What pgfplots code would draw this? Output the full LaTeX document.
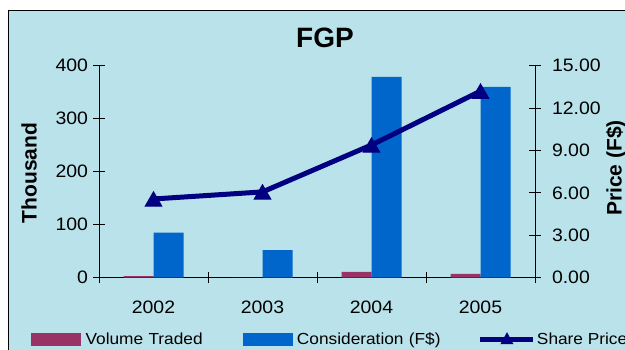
\documentclass[border=0pt]{standalone}
\usepackage{pgfplots}
\pgfplotsset{compat=1.18}
\usepackage{fontspec}
\setmainfont[FakeStretch=1.08]{Liberation Sans}
\newfontfamily\plainsans{Liberation Sans}

\definecolor{bgcol}{RGB}{186,226,234}
\definecolor{maroonbar}{RGB}{153,51,102}
\definecolor{bluebar}{RGB}{0,102,204}
\definecolor{navyline}{RGB}{0,0,128}

% Yearly figures for FGP
\pgfplotstableread{
idx volume consideration price
0   3      85            5.57
1   0      52            6.07
2   11     379           9.39
3   7      360           13.20
}\fgpdata

\begin{document}
\begin{tikzpicture}[x=1pt,y=1pt]
\useasboundingbox (0,0) rectangle (625,350);
\clip (0,0) rectangle (625,350);
\fill[white] (0,0) rectangle (625,350);
\fill[bgcol] (8,-2) rectangle (630,339);
\draw[black, line width=1pt] (8,-2) -- (8,339) -- (630,339);

\pgfplotsset{
  fgpbase/.style={
    at={(99pt,72.3pt)}, anchor=south west,
    scale only axis, width=436pt, height=212pt,
    xmin=-0.5, xmax=3.5,
    axis line style={-, black, line width=0.8pt},
    tick style={black, line width=0.8pt},
    major tick length=11pt, tick align=center,
    /pgf/number format/assume math mode=true,
    tick label style={font=\fontsize{18}{20}\selectfont},
    scaled y ticks=false,
    clip=false,
  },
  pricelegend/.style={
    legend image code/.code={%
      \draw[navyline, line width=5pt] (0pt,0pt) -- (53pt,0pt);
      \fill[navyline, draw=none] (26.5pt,7pt) -- (33pt,-5pt) -- (20pt,-5pt) -- cycle;}
  },
}

% Bars: volume traded and consideration
\begin{axis}[
  fgpbase,
  ymin=0, ymax=400, ytick={0,100,...,400},
  axis x line*=bottom, axis y line*=left,
  xtick={-0.5,0.5,1.5,2.5,3.5},
  x tick label as interval,
  xticklabels={2002,2003,2004,2005},
  xticklabel style={yshift=-14pt},
  yticklabel style={xshift=-2pt},
]
\addplot[ybar, bar width=30pt, bar shift=-15pt, fill=maroonbar, draw=none]
  table[x=idx, y=volume] {\fgpdata};
\addplot[ybar, bar width=30pt, bar shift=15pt, fill=bluebar, draw=none]
  table[x=idx, y=consideration] {\fgpdata};
\end{axis}

% Line: share price on the right axis
\begin{axis}[
  fgpbase,
  ymin=0, ymax=15, ytick={0,3,...,15},
  axis y line*=right, axis x line=none,
  yticklabel style={xshift=8pt, /pgf/number format/.cd, fixed, fixed zerofill, precision=2},
  legend style={at={(-0.156,-0.289)}, anchor=west, draw=none, fill=none,
    inner sep=0pt, legend columns=3, column sep=0pt,
    font=\fontsize{16}{18}\selectfont,
    nodes={inner xsep=5pt, inner ysep=0pt, anchor=west}},
  legend cell align=left,
]
\addlegendimage{legend image code/.code={\fill[maroonbar] (0pt,-6pt) rectangle (49pt,6pt);}}
\addlegendentry[text width=152pt]{Volume Traded}
\addlegendimage{legend image code/.code={\fill[bluebar] (0pt,-6pt) rectangle (49pt,6pt);}}
\addlegendentry[text width=176pt]{Consideration (F\$)}
\addplot[navyline, line width=5pt, mark=triangle*,
  mark options={solid, line width=1pt, mark size=9.5pt, yshift=-2.4pt},
  pricelegend]
  table[x=idx, y=price] {\fgpdata};
\addlegendentry[inner xsep=1pt]{Share Price}
\end{axis}

\node[font=\plainsans\bfseries\fontsize{28}{30}\selectfont] at (325,312) {FGP};
\node[rotate=90, font=\plainsans\bfseries\fontsize{21}{23}\selectfont] at (29,177) {Thousand};
\node[rotate=90, font=\plainsans\bfseries\fontsize{21}{23}\selectfont] at (616,182) {Price (F\$)};
\end{tikzpicture}
\end{document}
